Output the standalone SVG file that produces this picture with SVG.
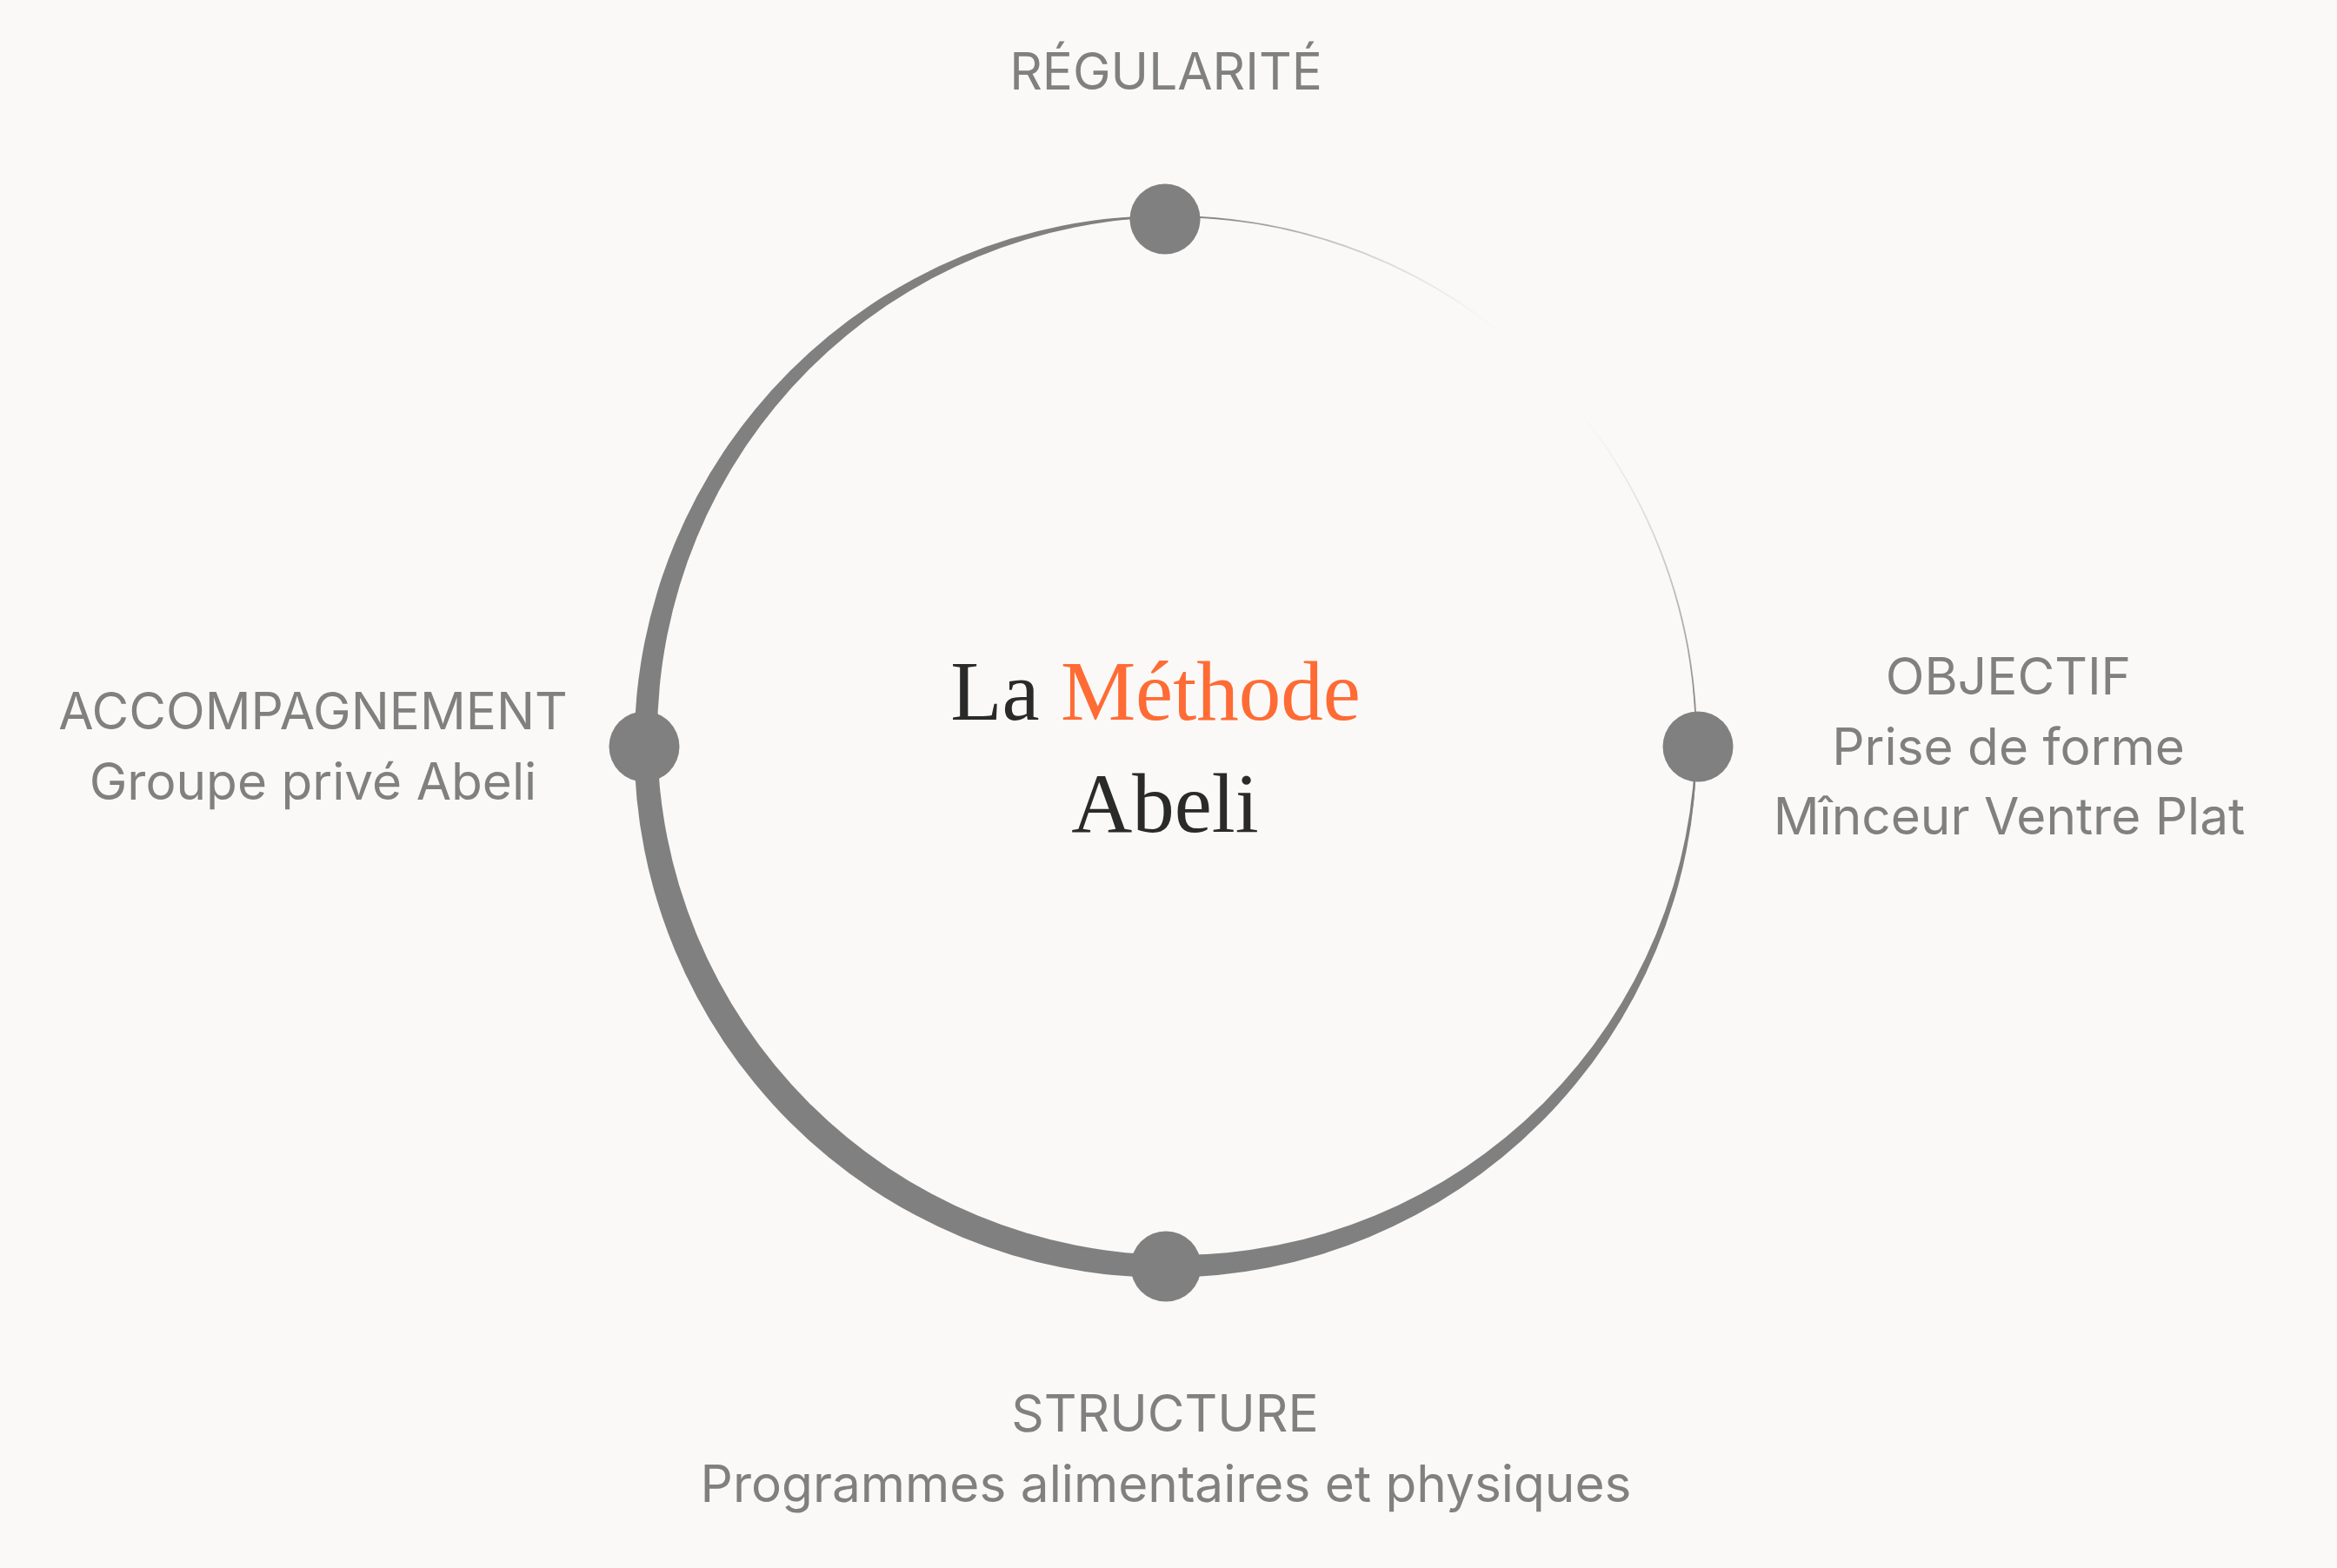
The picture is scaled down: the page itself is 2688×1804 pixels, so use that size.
<svg xmlns="http://www.w3.org/2000/svg" width="2688" height="1804" viewBox="0 0 2688 1804">
  <style>
    .lbl { font-family: Inter, "Liberation Sans", sans-serif; font-size: 58.5px; fill: #808080; text-anchor: middle; }
    .title { font-family: "Liberation Serif", "DejaVu Serif", serif; font-size: 97px; fill: #2a2a2a; }
    .accent { fill: #FF6B35; }
    .dot { fill: #808080; }
  </style>
  <defs>
    <linearGradient id="fade" gradientUnits="userSpaceOnUse" x1="1646" y1="554" x2="1774" y2="426">
      <stop offset="0" stop-color="#808080" stop-opacity="1"/>
      <stop offset="0.55" stop-color="#808080" stop-opacity="0.55"/>
      <stop offset="0.88" stop-color="#808080" stop-opacity="0.14"/>
      <stop offset="0.985" stop-color="#808080" stop-opacity="0"/>
      <stop offset="1" stop-color="#808080" stop-opacity="0"/>
    </linearGradient>
    <mask id="crescent" maskUnits="userSpaceOnUse" x="0" y="0" width="2688" height="1804">
      <circle cx="1340.5" cy="859" r="611" fill="#fff"/>
      <circle cx="1353" cy="847" r="597" fill="#000"/>
    </mask>
  </defs>
  <rect width="2688" height="1804" fill="#faf9f7"/>

  <g id="connectors">
    <rect x="700" y="220" width="1290" height="1290" fill="url(#fade)" mask="url(#crescent)"/>
    <circle cx="1347" cy="853" r="604" fill="none" stroke="url(#fade)" stroke-width="1.8"/>
  </g>

  <g id="center-title">
    <text class="title" x="1329" y="828" text-anchor="middle">La <tspan class="accent">Méthode</tspan></text>
    <text class="title" x="1340" y="957" text-anchor="middle">Abeli</text>
  </g>

  <g id="node-regularite">
    <circle class="dot" cx="1340" cy="252" r="40.5"/>
    <text class="lbl" x="1341" y="103">RÉGULARITÉ</text>
  </g>

  <g id="node-objectif">
    <circle class="dot" cx="1953" cy="859" r="40.5"/>
    <text class="lbl" x="2310" y="799">OBJECTIF</text>
    <text class="lbl" x="2310" y="880">Prise de forme</text>
    <text class="lbl" x="2311" y="960">Mînceur Ventre Plat</text>
  </g>

  <g id="node-structure">
    <circle class="dot" cx="1341" cy="1457" r="40.5"/>
    <text class="lbl" x="1340" y="1647">STRUCTURE</text>
    <text class="lbl" x="1341" y="1728">Programmes alimentaires et physiques</text>
  </g>

  <g id="node-accompagnement">
    <circle class="dot" cx="741" cy="859" r="40.5"/>
    <text class="lbl" x="360" y="839">ACCOMPAGNEMENT</text>
    <text class="lbl" x="360" y="920">Groupe privé Abeli</text>
  </g>
</svg>
